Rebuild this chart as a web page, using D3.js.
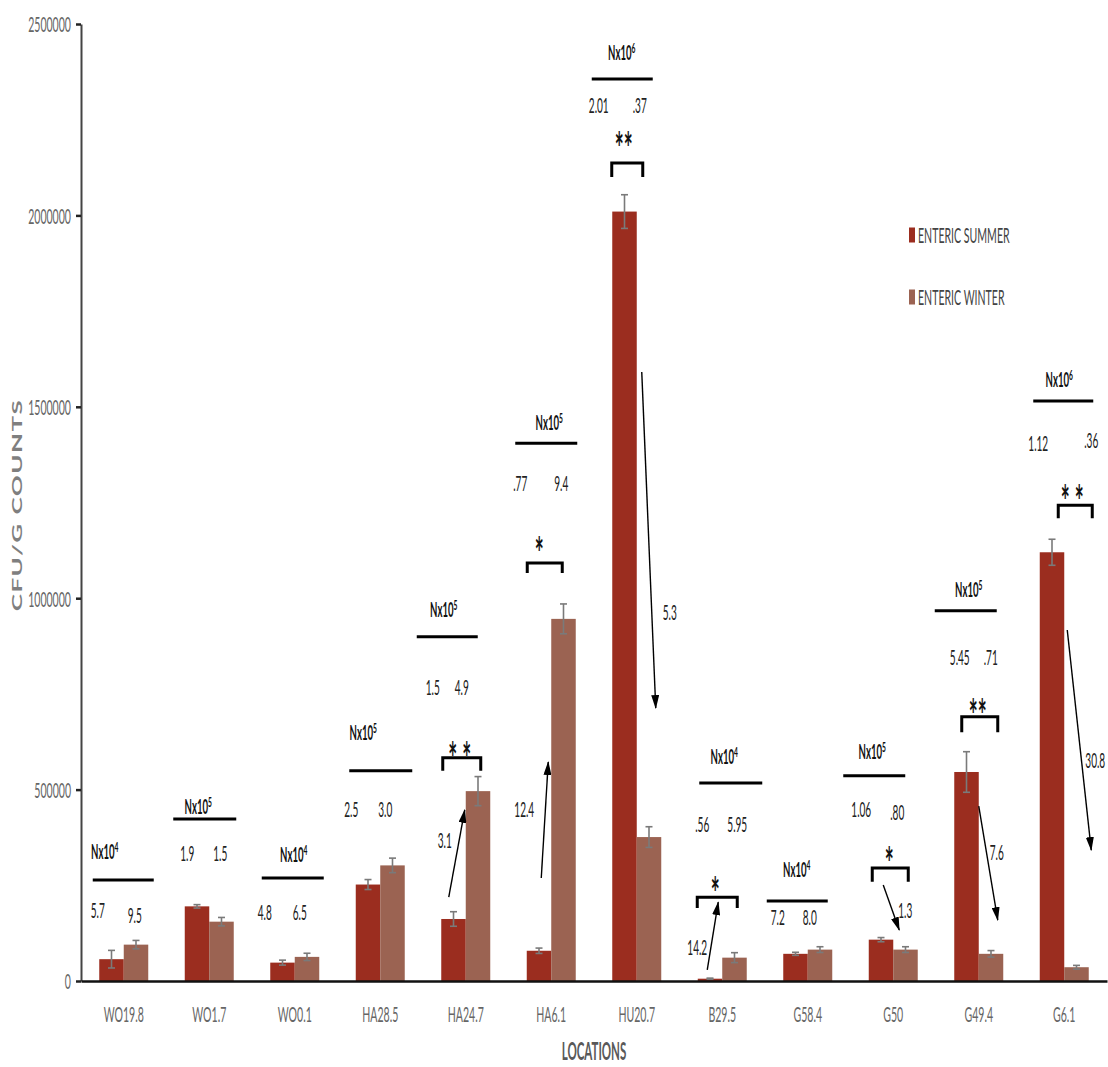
<!DOCTYPE html>
<html>
<head>
<meta charset="utf-8">
<script src="https://cdn.jsdelivr.net/npm/d3@7"></script>
<style>
body{margin:0;background:#fff}
svg text{font-family:Lato,'Liberation Sans',sans-serif}
</style>
</head>
<body>
<script>
const width = 1108
const height = 1067
const K = 0.48 // the original figure is squeezed sideways, text too

const locations = ['WO19.8','WO1.7','WO0.1','HA28.5','HA24.7','HA6.1','HU20.7','B29.5','G58.4','G50','G49.4','G6.1']
const series = ['ENTERIC SUMMER','ENTERIC WINTER']
const summer = [57000,195000,48000,252000,162000,79000,2010000,6000,71000,108000,546000,1120000]
const winter = [95000,155000,63000,302000,496000,946000,376000,61000,82000,82000,71000,36000]
const summerErr = [23000,4500,6500,13000,19000,7000,44000,1500,4000,5500,53000,34000]
const winterErr = [11000,11000,9500,19000,38000,39000,27000,13000,7500,7500,8500,4800]
const exponents = [4,5,4,5,5,5,6,4,4,5,5,6]
const summerLabels = ['5.7','1.9','4.8','2.5','1.5','.77','2.01','.56','7.2','1.06','5.45','1.12']
const winterLabels = ['9.5','1.5','6.5','3.0','4.9','9.4','.37','5.95','8.0','.80','.71','.36']
const stars = ['','','','','* *','*','**','*','','*','**','* *']
const folds = ['','','','','3.1','12.4','5.3','14.2','','1.3','7.6','30.8']
const yTicks = [0,500000,1000000,1500000,2000000,2500000]

// where each group's notes sit: x as px from the group centre, y in counts
const notePos = [
  {lab:[-19,337000], line:[-31,30,264000], nums:[-26,11,185000,172000]},
  {lab:[-11,455000], line:[-36,27,423000], nums:[-22,11,332000,332000]},
  {lab:[-1,329000], line:[-33,29,269000], nums:[-30,5,180000,180000]},
  {lab:[-17,648000], line:[-31,32,549000], nums:[-29,5,449000,449000]},
  {lab:[-22,969000], line:[-49,12,899000], nums:[-33,-4,768000,768000], br:[-23,15,583000,549000], star:[-6,603000], arr:[-17,219000,-1,447000], fold:[-21,368000]},
  {lab:[-2,1458000], line:[-36,26,1405000], nums:[-31,10,1301000,1301000], br:[-24,11,1092000,1066000], star:[-12,1139000], arr:[-10,269000,-3,572000], fold:[-27,447000]},
  {lab:[-15,2424000], line:[-45,16,2356000], nums:[-38,3,2288000,2288000], br:[-25,6,2137000,2100000], star:[-13,2197000], arr:[5,1591000,19,713000], fold:[33,964000]},
  {lab:[2,585000], line:[-23,40,517000], nums:[-20,15,410000,410000], br:[-25,15,219000,191000], star:[-7,251000], arr:[-15,29000,-4,206000], fold:[-25,89000]},
  {lab:[-11,290000], line:[-41,20,209000], nums:[-30,2,167000,167000]},
  {lab:[-21,598000], line:[-50,12,536000], nums:[-32,4,447000,441000], br:[-21,15,295000,259000], star:[-4,329000], arr:[-10,251000,6,133000], fold:[12,185000]},
  {lab:[-10,1021000], line:[-44,18,967000], nums:[-19,12,844000,844000], br:[-17,19,690000,650000], star:[-1,716000], arr:[0,457000,19,159000], fold:[18,337000]},
  {lab:[-5,1570000], line:[-31,29,1515000], nums:[-26,27,1405000,1411000], br:[-6,28,1243000,1209000], star:[8,1276000], arr:[3,917000,27,342000], fold:[31,577000]}
]

const colors = ['#9b2d1f','#9b6352']

const svg = d3.select('body').append('svg')
  .attr('width',width)
  .attr('height',height)

const x0 = d3.scaleBand().domain(locations).range([81,1107]).paddingInner(0.427).paddingOuter(0.2135)
const x1 = d3.scaleBand().domain(series).range([0,x0.bandwidth()])
const y = d3.scaleLinear().domain([0,2500000]).range([981,24])

const rows = locations.map((loc,i) => ({
  loc:loc,
  vals:[
    {s:series[0],v:summer[i],e:summerErr[i]},
    {s:series[1],v:winter[i],e:winterErr[i]}
  ]
}))

// squeezed text helper
function txt(parent,x,yy,str,size,opts){
  opts = opts || {}
  return parent.append('text')
    .attr('transform',`translate(${x},${yy}) scale(${K},1)`)
    .attr('text-anchor',opts.anchor || 'middle')
    .attr('dy',opts.dy || '0.36em')
    .attr('font-size',size)
    .attr('font-weight',opts.weight || 'normal')
    .attr('fill',opts.fill || '#222')
    .text(str)
}

// y axis
const yAxis = svg.append('g')
  .attr('transform','translate(81,0)')
  .call(d3.axisLeft(y).tickValues(yTicks).tickFormat(d3.format('d')).tickSize(5).tickSizeOuter(0))
yAxis.select('.domain').attr('stroke','#444').attr('stroke-width',2)
yAxis.selectAll('.tick line').attr('stroke','#222').attr('stroke-width',2.5)
yAxis.selectAll('.tick text')
  .attr('x',0).attr('dy','0.36em')
  .attr('transform',`translate(-10,0) scale(${K},1)`)
  .attr('font-size',22).attr('fill','#666')
  .attr('font-family','Lato,"Liberation Sans",sans-serif')

// bars
const groups = svg.append('g').selectAll('g')
  .data(rows)
  .enter().append('g')
    .attr('transform',d => `translate(${x0(d.loc)},0)`)

groups.selectAll('rect')
  .data(d => d.vals)
  .enter().append('rect')
    .attr('x',d => x1(d.s))
    .attr('y',d => y(d.v))
    .attr('width',x1.bandwidth())
    .attr('height',d => y(0) - y(d.v))
    .attr('fill',(d,i) => colors[i])

const errs = groups.selectAll('g.err')
  .data(d => d.vals)
  .enter().append('g')
    .attr('class','err')
    .attr('transform',d => `translate(${x1(d.s) + x1.bandwidth()/2},0)`)
    .attr('stroke','#7a7a7a')
    .attr('stroke-width',1.6)
errs.append('line')
  .attr('y1',d => y(d.v + d.e)).attr('y2',d => y(Math.max(0,d.v - d.e)))
errs.append('line')
  .attr('x1',-3.5).attr('x2',3.5)
  .attr('y1',d => y(d.v + d.e)).attr('y2',d => y(d.v + d.e))
errs.append('line')
  .attr('x1',-3.5).attr('x2',3.5)
  .attr('y1',d => y(Math.max(0,d.v - d.e))).attr('y2',d => y(Math.max(0,d.v - d.e)))

// x axis
const xAxis = svg.append('g')
  .attr('transform','translate(0,981)')
  .call(d3.axisBottom(x0).tickSize(0).tickSizeOuter(0))
xAxis.select('.domain').attr('stroke','#111').attr('stroke-width',2.5)
xAxis.selectAll('.tick text')
  .attr('y',0).attr('dy','0.36em')
  .attr('transform',`translate(0,33) scale(${K},1)`)
  .attr('font-size',22).attr('fill','#666')
  .attr('font-family','Lato,"Liberation Sans",sans-serif')

txt(svg,594,1051,'LOCATIONS',24,{weight:'bold',fill:'#595959'})

svg.append('text')
  .attr('transform',`translate(18,505) rotate(-90) scale(1,${K})`)
  .attr('text-anchor','middle')
  .attr('dy','0.36em')
  .attr('font-size',26)
  .attr('font-weight','bold')
  .attr('letter-spacing',1.5)
  .attr('fill','#7f7f7f')
  .text('CFU/G COUNTS')

// legend
const legend = svg.append('g').selectAll('g')
  .data(series)
  .enter().append('g')
    .attr('transform',(d,i) => `translate(909,${235 + i*62})`)
legend.append('rect')
  .attr('x',0).attr('y',-7.5).attr('width',6).attr('height',15)
  .attr('fill',(d,i) => colors[i])
legend.each(function(d){ txt(d3.select(this),9,0,d,22,{anchor:'start',fill:'#444'}) })

// annotations
svg.append('defs').append('marker')
  .attr('id','head')
  .attr('viewBox','0 0 14 8')
  .attr('refX',13).attr('refY',4)
  .attr('markerWidth',14).attr('markerHeight',8)
  .attr('markerUnits','userSpaceOnUse')
  .attr('orient','auto')
  .append('path').attr('d','M0,0L14,4L0,8Z').attr('fill','#000')

const notes = svg.append('g')
locations.forEach((loc,i) => {
  const p = notePos[i]
  const c = x0(loc) + x0.bandwidth()/2

  const lab = txt(notes,c + p.lab[0],y(p.lab[1]),'Nx10',20,{weight:'bold',fill:'#111'})
  lab.append('tspan').attr('dy','-0.5em').attr('font-size',14).text(exponents[i])

  notes.append('line')
    .attr('x1',c + p.line[0]).attr('x2',c + p.line[1])
    .attr('y1',y(p.line[2])).attr('y2',y(p.line[2]))
    .attr('stroke','#000').attr('stroke-width',3)

  txt(notes,c + p.nums[0],y(p.nums[2]),summerLabels[i],21)
  txt(notes,c + p.nums[1],y(p.nums[3]),winterLabels[i],21)

  if(p.br){
    notes.append('path')
      .attr('d',`M${c + p.br[0]},${y(p.br[3])}V${y(p.br[2])}H${c + p.br[1]}V${y(p.br[3])}`)
      .attr('fill','none').attr('stroke','#000').attr('stroke-width',3)
    txt(notes,c + p.star[0],y(p.star[1]),stars[i],44,{weight:'bold',fill:'#111',dy:'0.55em'})
  }
  if(p.arr){
    notes.append('line')
      .attr('x1',c + p.arr[0]).attr('y1',y(p.arr[1]))
      .attr('x2',c + p.arr[2]).attr('y2',y(p.arr[3]))
      .attr('stroke','#000').attr('stroke-width',1.4)
      .attr('marker-end','url(#head)')
    txt(notes,c + p.fold[0],y(p.fold[1]),folds[i],21)
  }
})
</script>
</body>
</html>
